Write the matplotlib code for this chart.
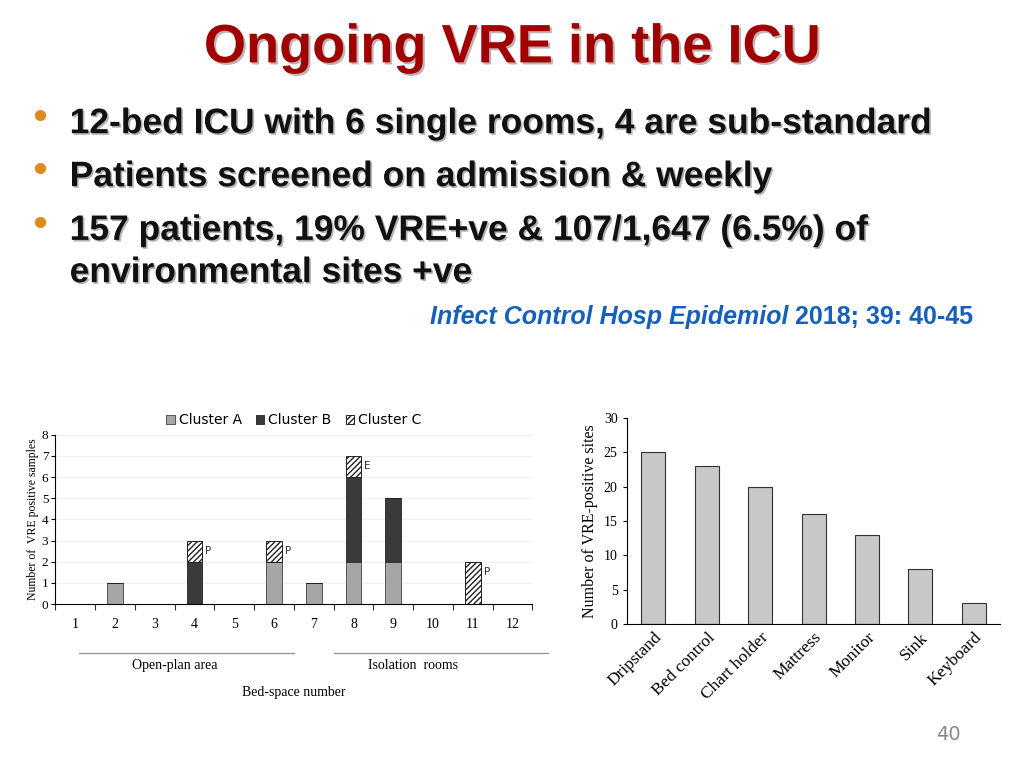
import matplotlib
matplotlib.use("Agg")
import matplotlib.pyplot as plt
import matplotlib.patheffects as pe
import numpy as np

beds = [str(i) for i in range(1, 13)]
cluster_a = [0, 1, 0, 0, 0, 2, 1, 2, 2, 0, 0, 0]
cluster_b = [0, 0, 0, 2, 0, 0, 0, 4, 3, 0, 0, 0]
cluster_c = [0, 0, 0, 1, 0, 1, 0, 1, 0, 0, 2, 0]
annot = {3: "P", 5: "P", 7: "E", 10: "P"}

sites = ["Dripstand", "Bed control", "Chart holder", "Mattress", "Monitor", "Sink", "Keyboard"]
site_counts = [25, 23, 20, 16, 13, 8, 3]

fig = plt.figure(figsize=(10.24, 7.68), dpi=100)
fig.patch.set_facecolor("white")

fig.text(0.5, 0.937, "Ongoing VRE in the ICU", ha="center", va="center", fontsize=39,
         fontweight="bold", color="#a00000", family="Liberation Sans",
         path_effects=[pe.withSimplePatchShadow(offset=(1.5, -1.5), alpha=0.3)])
shadow = [pe.withSimplePatchShadow(offset=(1.2, -1.2), alpha=0.3)]
lines = [(0.068, 0.839, "12-bed ICU with 6 single rooms, 4 are sub-standard", True),
         (0.068, 0.770, "Patients screened on admission & weekly", True),
         (0.068, 0.700, "157 patients, 19% VRE+ve & 107/1,647 (6.5%) of", True),
         (0.068, 0.645, "environmental sites +ve", False)]
for x, y, t, b in lines:
    if b:
        fig.text(0.027, y + 0.006, "•", fontsize=28, color="#e08a1e", va="center", ha="left")
    fig.text(x, y, t, fontsize=25.5, fontweight="bold", color="#111111", va="center",
             family="Liberation Sans", path_effects=shadow)
t1 = fig.text(0.42, 0.587, "Infect Control Hosp Epidemiol", fontsize=18, fontweight="bold",
              style="italic", color="#1560bd", va="center", family="Liberation Sans")
r = fig.canvas.get_renderer()
bb = t1.get_window_extent(r)
fig.text((bb.x1 + 6) / fig.bbox.width, 0.587, "2018; 39: 40-45", fontsize=18, fontweight="bold",
         color="#1560bd", va="center", family="Liberation Sans")
fig.text(0.914, 0.044, "40", fontsize=14, color="#888888", va="center")

# Left chart
ax = fig.add_axes([0.054, 0.2135, 0.466, 0.2205])
x = np.arange(12)
w = 0.4
ca, cb, cc = np.array(cluster_a), np.array(cluster_b), np.array(cluster_c)
ax.bar(x, ca, w, color="#a6a6a6", edgecolor="#555555", lw=0.7, label="Cluster A")
ax.bar(x, cb, w, bottom=ca, color="#3a3a3a", edgecolor="#333333", lw=0.7, label="Cluster B")
ax.bar(x, cc, w, bottom=ca + cb, color="white", edgecolor="#222222", lw=0.7,
       hatch="//////", label="Cluster C")
for i, t in annot.items():
    top = ca[i] + cb[i] + cc[i]
    ax.text(i + 0.27, top - 0.5, t, fontsize=7.5, color="#333333", va="center")
ax.set_xlim(-0.5, 11.5)
ax.set_ylim(0, 8)
ax.set_yticks(range(9))
ax.set_xticks(np.arange(-0.5, 12, 1))
ax.set_xticklabels([])
ax.tick_params(axis="x", length=4, direction="out", color="#333333")
ax.tick_params(axis="y", length=3, labelsize=9.5, pad=2)
for i, b in enumerate(beds):
    ax.text(i, -0.95, b, ha="center", va="center", fontsize=10, family="Liberation Serif",
            transform=ax.transData)
for lab in ax.get_yticklabels():
    lab.set_family("Liberation Serif")
ax.grid(axis="y", color="#eeeeee", lw=0.6)
ax.set_axisbelow(True)
for s in ["top", "right"]:
    ax.spines[s].set_visible(False)
ax.set_ylabel("Number of  VRE positive samples", fontsize=8.5, family="Liberation Serif", labelpad=2)
ax.plot([0.1, 5.5], [-2.3, -2.3], color="#999999", lw=1, clip_on=False)
ax.plot([6.5, 11.9], [-2.3, -2.3], color="#999999", lw=1, clip_on=False)
ax.text(2.5, -2.9, "Open-plan area", ha="center", va="center", fontsize=10, family="Liberation Serif")
ax.text(8.5, -2.9, "Isolation  rooms", ha="center", va="center", fontsize=10, family="Liberation Serif")
ax.text(5.5, -4.2, "Bed-space number", ha="center", va="center", fontsize=10, family="Liberation Serif")
ax.legend(loc="lower center", bbox_to_anchor=(0.5, 0.97), ncol=3, frameon=False, fontsize=10,
          handlelength=0.6, handleheight=0.6, columnspacing=1.0, handletextpad=0.3)

# Right chart
ax2 = fig.add_axes([0.612, 0.1875, 0.365, 0.2685])
x2 = np.arange(len(sites))
ax2.bar(x2, site_counts, 0.45, color="#c8c8c8", edgecolor="#333333", lw=0.8)
ax2.set_xlim(-0.5, len(sites) - 0.5)
ax2.set_ylim(0, 30)
ax2.set_yticks(range(0, 31, 5))
ax2.set_xticks(x2)
ax2.set_xticklabels(sites, rotation=45, ha="right", rotation_mode="anchor",
                    fontsize=12.5, family="Liberation Serif")
ax2.tick_params(axis="x", length=0, pad=4)
ax2.tick_params(axis="y", length=3, labelsize=10)
for lab in ax2.get_yticklabels():
    lab.set_family("Liberation Serif")
for s in ["top", "right"]:
    ax2.spines[s].set_visible(False)
ax2.set_ylabel("Number of VRE-positive sites", fontsize=11.5, family="Liberation Serif",
               labelpad=4)

fig.savefig("out.png", dpi=100)
